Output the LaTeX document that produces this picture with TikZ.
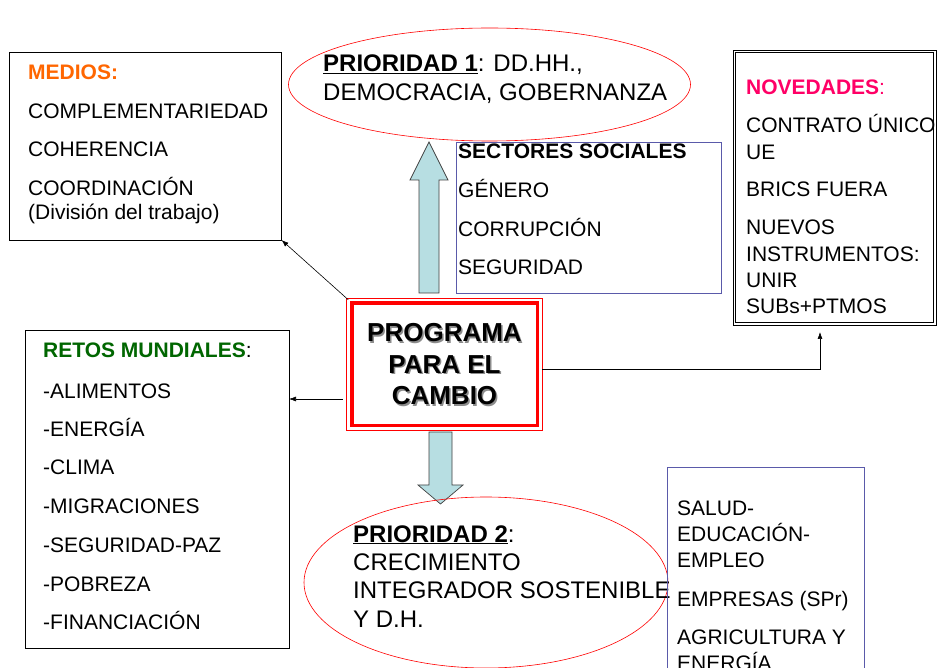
\documentclass[tikz,border=0pt]{standalone}
\usepackage{fontspec}
\setmainfont{Liberation Sans}
\usetikzlibrary{arrows.meta, shapes.geometric}

\definecolor{mediosorange}{RGB}{255,102,0}
\definecolor{novedmagenta}{RGB}{255,0,102}
\definecolor{retosgreen}{RGB}{0,102,0}
\definecolor{boxblue}{RGB}{90,90,170}
\definecolor{arrowfill}{RGB}{183,222,226}

\begin{document}
\begin{tikzpicture}[x=1pt, y=-1pt,
    txt/.style={anchor=base west, inner sep=0, font=\fontsize{21}{26}\selectfont},
    bigtxt/.style={txt, font=\fontsize{24}{28}\selectfont},
    box/.style={draw, line width=0.7pt, inner sep=0, outer sep=0},
    prio/.style={ellipse, draw=red, line width=0.6pt, inner sep=0},
    arr/.style={-{Latex[length=7pt, width=5pt]}, line width=0.6pt},
    blockarrow/.style={fill=arrowfill, draw=black!75, line width=0.7pt}]

  \clip (0,0) rectangle (938,668);
  \fill[white] (0,0) rectangle (938,668);

  % Medios
  \node[box, minimum width=272pt, minimum height=188pt] (medios) at (145.5,146) {};
  \node[txt, font=\fontsize{21}{26}\selectfont\bfseries, text=mediosorange] (medios-title) at (28,80) {MEDIOS:};
  \foreach \txt/\y [count=\i] in {COMPLEMENTARIEDAD/119, COHERENCIA/157, COORDINACIÓN/196, (División del trabajo)/220}
    \node[txt] (medios-\i) at (28,\y) {\txt};

  % Prioridad 1
  \node[prio, minimum width=402pt, minimum height=113pt] (prio1) at (489.5,84.5) {};
  \node[bigtxt] (prio1-a) at (323,72) {\underline{\textbf{PRIORIDAD 1}}: DD.HH.,};
  \node[bigtxt] (prio1-b) at (323,101) {DEMOCRACIA, GOBERNANZA};

  % Sectores sociales
  \node[box, draw=boxblue, line width=0.8pt, minimum width=265pt, minimum height=151pt] (sectores) at (588.5,217.5) {};
  \node[txt, font=\fontsize{21}{26}\selectfont\bfseries] (sectores-title) at (458,159) {SECTORES SOCIALES};
  \foreach \txt/\y [count=\i] in {GÉNERO/198, CORRUPCIÓN/237, SEGURIDAD/275}
    \node[txt] (sectores-\i) at (458,\y) {\txt};

  % Novedades
  \node[box, minimum width=203pt, minimum height=275pt] (noved) at (834.5,187.5) {};
  \draw[line width=0.7pt] ([shift={(2.5pt,-2.5pt)}]noved.north west) rectangle ([shift={(-2.5pt,2.5pt)}]noved.south east);
  \node[txt, text=novedmagenta] (noved-title) at (746,95) {\textbf{NOVEDADES}:};
  \foreach \txt/\y [count=\i] in {CONTRATO ÚNICO/133, UE/160, BRICS FUERA/197, NUEVOS/235, INSTRUMENTOS:/262, UNIR/288, SUBs+PTMOS/314}
    \node[txt] (noved-\i) at (746,\y) {\txt};

  % Programa para el cambio
  \node[draw=red, line width=3.5pt, inner sep=0, outer sep=0, minimum width=185.5pt, minimum height=122.5pt] (prog) at (444.5,364.5) {};
  \draw[red, line width=0.7pt] ([shift={(-5pt,5pt)}]prog.north west) rectangle ([shift={(5pt,-5pt)}]prog.south east);
  \node[align=center, inner sep=0, text=black!45, font=\fontsize{26}{31.5}\selectfont\bfseries] (prog-shadow) at ([shift={(1.5pt,-1.5pt)}]prog.center) {PROGRAMA\\PARA EL\\CAMBIO};
  \node[align=center, inner sep=0, font=\fontsize{26}{31.5}\selectfont\bfseries] (prog-text) at (prog.center) {PROGRAMA\\PARA EL\\CAMBIO};

  % Retos mundiales
  \node[box, minimum width=264pt, minimum height=317.5pt] (retos) at (157,489.5) {};
  \node[txt] (retos-title) at (43,358) {\textcolor{retosgreen}{\textbf{RETOS MUNDIALES}}:};
  \foreach \txt/\y [count=\i] in {-ALIMENTOS/399, -ENERGÍA/437, -CLIMA/475, -MIGRACIONES/513, -SEGURIDAD-PAZ/552, -POBREZA/591, -FINANCIACIÓN/629}
    \node[txt] (retos-\i) at (43,\y) {\txt};

  % Block arrows
  \draw[blockarrow] (419,293) -- (419,180) -- (410,180) -- (429,142) -- (448,180) -- (439,180) -- (439,293) -- cycle;
  \draw[blockarrow] (429,432) -- (452,432) -- (452,485) -- (463,485) -- (440.5,504) -- (418,485) -- (429,485) -- cycle;

  % Prioridad 2
  \node[prio, minimum width=364pt, minimum height=171pt] (prio2) at (486,582.5) {};
  \node[bigtxt] (prio2-a) at (353,542) {\underline{\textbf{PRIORIDAD 2}}:};
  \foreach \txt/\y [count=\i] in {CRECIMIENTO/570, INTEGRADOR SOSTENIBLE/598, Y D.H./627}
    \node[bigtxt] (prio2-\i) at (353,\y) {\txt};

  % Sectores productivos
  \node[box, draw=boxblue, line width=0.8pt, minimum width=197pt, minimum height=240pt] (product) at (765.5,587) {};
  \foreach \txt/\y [count=\i] in {SALUD-/515, EDUCACIÓN-/541, EMPLEO/567, EMPRESAS (SPr)/606, AGRICULTURA Y/644, ENERGÍA/670}
    \node[txt] (product-\i) at (677,\y) {\txt};

  % Connectors
  \draw[arr] ([shift={(-3.5pt,3.5pt)}]prog.north west) -- (medios.south east);
  \draw[arr] ([shift={(-9pt,-34.5pt)}]prog.west) coordinate (prog-w) -- (prog-w -| retos.east);
  \draw[arr, shorten >=7pt] ([shift={(5pt,-4.5pt)}]prog.east) -| ([xshift=-14.5pt]noved.south);
\end{tikzpicture}
\end{document}
